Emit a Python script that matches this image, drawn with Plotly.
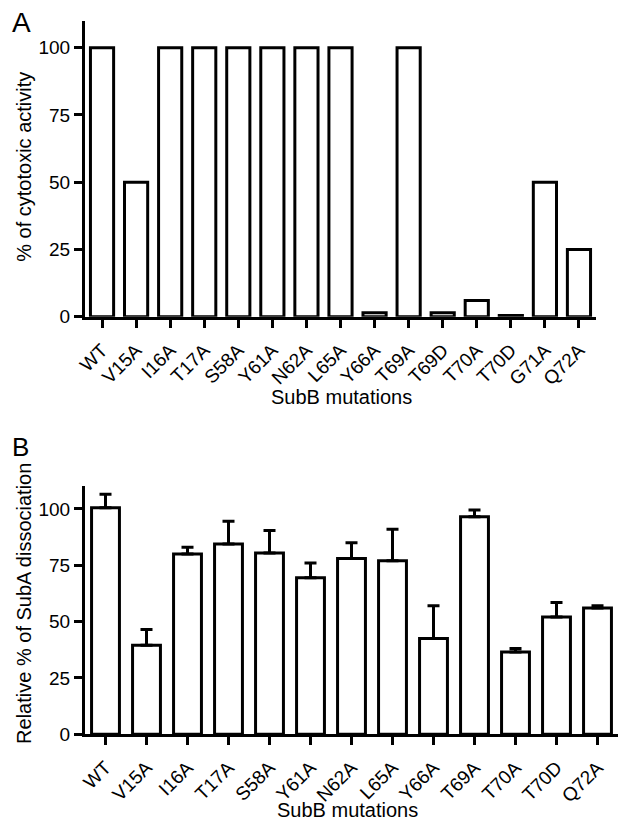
import plotly.graph_objects as go

cats_a = ["WT", "V15A", "I16A", "T17A", "S58A", "Y61A", "N62A", "L65A",
          "Y66A", "T69A", "T69D", "T70A", "T70D", "G71A", "Q72A"]
vals_a = [100, 50, 100, 100, 100, 100, 100, 100, 1.5, 100, 1.5, 6, 0.5, 50, 25]

cats_b = ["WT", "V15A", "I16A", "T17A", "S58A", "Y61A", "N62A", "L65A",
          "Y66A", "T69A", "T70A", "T70D", "Q72A"]
vals_b = [100.5, 39.5, 80, 84.5, 80.5, 69.5, 78, 77, 42.5, 96.5, 36.5, 52, 56]
err_b = [6, 7, 3, 10, 10, 6.5, 7, 14, 14.5, 3, 1.5, 6.5, 1]

W, H = 618, 831
L = 85
PW = W - L
FONT = "Arial, Liberation Sans, Helvetica, sans-serif"


def px_x(p):
    return (p - L) / PW


def px_y(p):
    return 1 - p / H


fig = go.Figure()
fig.add_trace(go.Bar(x=cats_a, y=vals_a, xaxis="x", yaxis="y",
                     width=0.68,
                     marker=dict(color="white", line=dict(color="black", width=3)),
                     showlegend=False))
fig.add_trace(go.Bar(x=cats_b, y=vals_b, xaxis="x2", yaxis="y2",
                     width=0.68,
                     marker=dict(color="white", line=dict(color="black", width=3)),
                     error_y=dict(type="data", array=err_b, symmetric=False,
                                  arrayminus=[0] * len(err_b), color="black",
                                  thickness=3, width=6),
                     showlegend=False))

axis_common = dict(showline=True, linewidth=3, linecolor="black", ticks="outside",
                   ticklen=8, tickwidth=3, tickcolor="black", showgrid=False,
                   zeroline=False, tickfont=dict(family=FONT, size=19, color="black"))

fig.update_layout(
    width=W, height=H,
    margin=dict(l=L, r=0, t=0, b=0),
    paper_bgcolor="white", plot_bgcolor="white",
    font=dict(family=FONT, color="black"),
    bargap=0.3,
    xaxis=dict(domain=[0, px_x(596)], anchor="y", type="category",
               range=[-0.5, 14.5], tickangle=-45, ticklabelstandoff=4,
               **axis_common),
    yaxis=dict(domain=[px_y(321), px_y(21)], anchor="x", range=[0, 110],
               tickvals=[0, 25, 50, 75, 100], ticklabelstandoff=0, **axis_common),
    xaxis2=dict(domain=[0, 1], anchor="y2", type="category",
                range=[-0.5, 12.5], tickangle=-45, ticklabelstandoff=4,
                **axis_common),
    yaxis2=dict(domain=[px_y(744), px_y(493)], anchor="x2", range=[0, 110],
                tickvals=[0, 25, 50, 75, 100], ticklabelstandoff=0, **axis_common),
)

ann = [
    dict(text="% of cytotoxic activity", x=px_x(24), y=px_y(169), textangle=-90,
         font=dict(size=20)),
    dict(text="Relative % of SubA dissociation", x=px_x(24), y=px_y(612),
         textangle=-90, font=dict(size=20)),
    dict(text="SubB mutations", x=px_x(341), y=px_y(402), font=dict(size=20)),
    dict(text="SubB mutations", x=px_x(347), y=px_y(821), font=dict(size=20)),
    dict(text="A", x=px_x(21), y=px_y(23), font=dict(size=28)),
    dict(text="B", x=px_x(20), y=px_y(453), font=dict(size=26)),
]
for a in ann:
    a.update(xref="paper", yref="paper", showarrow=False, xanchor="center",
             yanchor="middle")
    a["font"].update(family=FONT, color="black")
fig.update_layout(annotations=ann)

fig.write_html("out.html", config={"displayModeBar": False},
               post_script="document.body.style.margin='0';"
                           "document.body.style.overflow='hidden';")
